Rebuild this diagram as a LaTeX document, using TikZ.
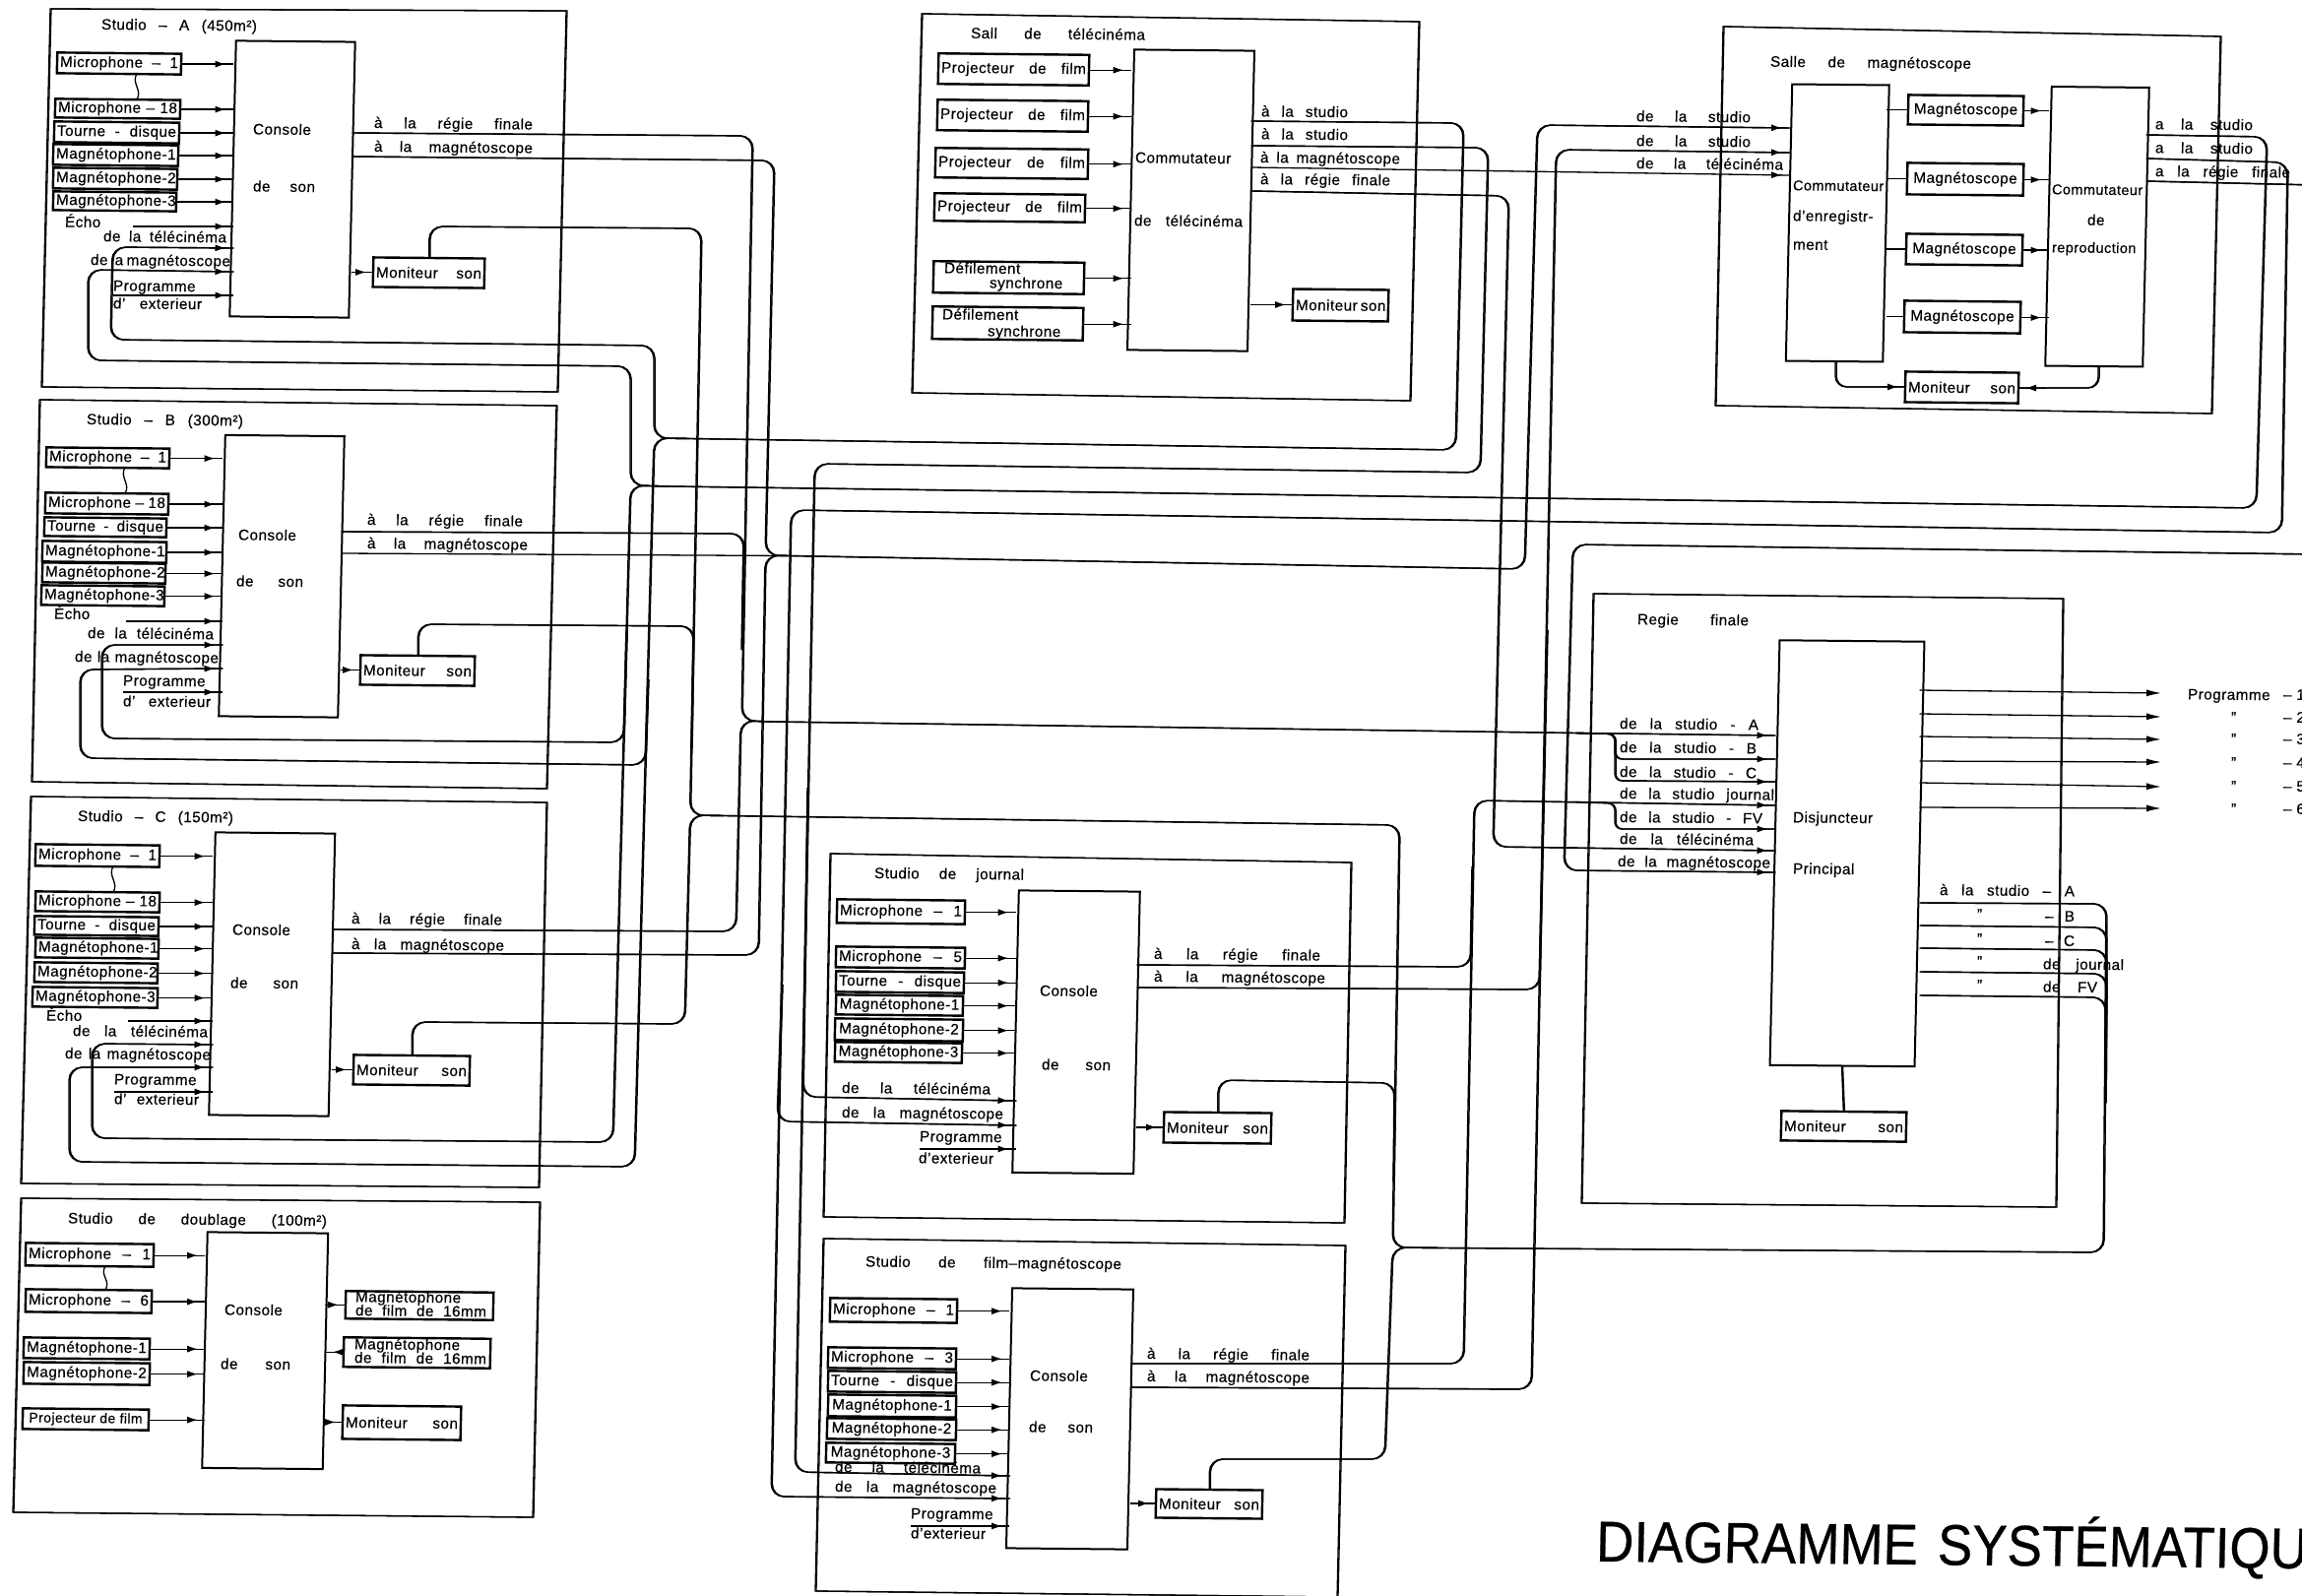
\documentclass[tikz,border=0pt]{standalone}
\usepackage{fontspec}
\setmainfont[LetterSpace=3,FakeBold=0.35]{Liberation Sans}
\newfontfamily\titlefont[FakeBold=0.5]{Liberation Sans}
\usetikzlibrary{arrows.meta,decorations.markings}
\newcounter{autonode}
\tikzset{
  every node/.style={transform shape,xslant=.023,yslant=-.01},
  txt/.style={inner sep=0pt,outer sep=0pt,text height=11pt,text depth=3.5pt,font=\fontsize{15.3}{16}\selectfont},
  ibox/.style={draw,line width=2.4pt,inner sep=0pt,outer sep=0pt,font=\fontsize{15.3}{16}\selectfont},
  cbox/.style={draw,line width=2pt,inner sep=0pt,outer sep=0pt},
  wire/.style={line width=1.3pt},
  feedtip/.style={postaction={decorate},decoration={markings,mark=at position -7pt with {\arrow{Latex[length=11pt,width=7pt]}}}},
  feed/.style={wire,feedtip},
  trunk/.style={line width=1.4pt,rounded corners=13pt,preaction={draw,line width=1.4pt,transform canvas={xshift=1.1pt}}},
  tin/.style={trunk,feedtip},
  frame/.style={line width=1.3pt,line join=miter,preaction={draw,line width=1.3pt,transform canvas={xshift=1pt}}},
  prog/.style={wire,-{Latex[length=15pt,width=7pt]}},
}
% text fitted between x1 and x2: spaces stretch
\newcommand\lab[4]{\stepcounter{autonode}\pgfmathsetmacro\tw{#2-#1}\pgfmathsetmacro\tc{(#1+#2)/2}%
  \node[txt] (t\theautonode) at (\tc,#3) {\makebox[\tw pt][s]{#4}};}
% box: name x1 y1 x2 y2 text
\newcommand\bx[6]{\pgfmathsetmacro\tw{#4-#2}\pgfmathsetmacro\th{#5-#3}\pgfmathsetmacro\tc{(#2+#4)/2}\pgfmathsetmacro\tm{(#3+#5)/2}\pgfmathsetmacro\ttw{max(#4-#2-6,1)}%
  \node[ibox,minimum width=\tw pt,minimum height=\th pt] (#1) at (\tc,\tm) {\makebox[\ttw pt][s]{#6}};}
\newcommand\con[5]{\pgfmathsetmacro\tw{#4-#2}\pgfmathsetmacro\th{#5-#3}\pgfmathsetmacro\tc{(#2+#4)/2}\pgfmathsetmacro\tm{(#3+#5)/2}%
  \node[cbox,minimum width=\tw pt,minimum height=\th pt] (#1) at (\tc,\tm) {};}
\newcommand\fd[2]{\draw[feed] (#1.east) -- (#2.west |- #1.east);}
\newcommand\fr[2]{\draw[feed] (#1.east |- #2.west) -- (#2.west);}
\newcommand\squig[3]{\draw[wire] (#1.south -| #3,0) .. controls +(-6,9) and +(6,-9) .. (#2.north -| #3,0);}
\newcommand\freein[4]{\coordinate (#1) at (#2,#3); \draw[feed] (#1) -- (#4.west |- #1);}
\begin{document}
\begin{tikzpicture}[x=1pt,y=-1pt]
\useasboundingbox (0,0) rectangle (2338,1621);
\fill[white] (0,0) rectangle (2338,1621);

%% frames
\draw[frame] (51,9)--(575,11)--(566,398)--(42,393)--cycle;
\draw[frame] (40,406)--(565,412)--(555,801)--(32,794)--cycle;
\draw[frame] (31,809)--(555,815)--(547,1206)--(21,1202)--cycle;
\draw[frame] (21,1217)--(548,1221)--(541,1541)--(13,1536)--cycle;
\draw[frame] (936,14)--(1441,22)--(1432,407)--(926,399)--cycle;
\draw[frame] (843,867)--(1372,876)--(1365,1242)--(836,1236)--cycle;
\draw[frame] (836,1258)--(1366,1265)--(1358,1622)--(828,1616)--cycle;
\draw[frame] (1750,27)--(2255,37)--(2246,420)--(1742,412)--cycle;
\draw[frame] (1618,603)--(2095,608)--(2088,1226)--(1606,1222)--cycle;

%% consoles
\con{conA}{236.5}{42}{357.5}{322}
\con{conB}{225.5}{442.5}{346.5}{728}
\con{conC}{215.5}{846}{337}{1133}
\con{conD}{208}{1252}{330.5}{1491.5}
\con{conT}{1148.5}{51}{1270.5}{356}
\con{conJ}{1031.5}{905}{1154.5}{1191.5}
\con{conF}{1025}{1309}{1148}{1573}
\con{conG}{1802.5}{651}{1949.5}{1082.5}
\con{conM}{1817}{86}{1915.5}{367}
\con{conR}{2080.5}{88.5}{2179.5}{372}

%% Studio A
\lab{103}{261}{27}{Studio -- A (450m²)}
\bx{aM1}{58}{54}{184}{75}{Microphone -- 1}
\bx{aM2}{56}{101}{183}{120}{Microphone -- 18}
\bx{aTD}{55}{124}{182}{145}{Tourne - disque}
\bx{aG1}{54}{147}{181}{168}{\hfil Magnétophone-1\hfil}
\bx{aG2}{54}{171}{180}{192}{\hfil Magnétophone-2\hfil}
\bx{aG3}{54}{195}{179}{214}{\hfil Magnétophone-3\hfil}
\squig{aM1}{aM2}{139}
\foreach \n in {aM1,aM2,aTD,aG1,aG2,aG3} {\fd{\n}{conA}}
\lab{66}{100}{227}{Écho}
\freein{aE}{135}{230}{conA}
\lab{105}{230}{242}{de la télécinéma}
\lab{92}{234}{266}{de la magnétoscope}
\lab{115}{198}{292}{Programme}
\lab{115}{205}{310}{d' exterieur}
\freein{aP}{115}{300}{conA}
\lab{257}{320}{133}{Console}
\lab{257}{320}{191}{de son}
\lab{380}{541}{127}{à la régie finale}
\lab{380}{541}{151}{à la magnétoscope}
\bx{aS}{379}{262}{492}{292}{Moniteur son}
\fr{conA}{aS}

%% Studio B
\lab{88}{247}{428}{Studio -- B (300m²)}
\bx{bM1}{47}{455}{172}{475}{Microphone -- 1}
\bx{bM2}{46}{501}{171}{522}{Microphone -- 18}
\bx{bTD}{45}{526}{169}{545}{Tourne - disque}
\bx{bG1}{43}{550}{169}{571}{\hfil Magnétophone-1\hfil}
\bx{bG2}{43}{572}{168}{592}{\hfil Magnétophone-2\hfil}
\bx{bG3}{42}{595}{167}{615}{\hfil Magnétophone-3\hfil}
\squig{bM1}{bM2}{127}
\foreach \n in {bM1,bM2,bTD,bG1,bG2,bG3} {\fd{\n}{conB}}
\lab{55}{90}{625}{Écho}
\freein{bE}{128}{631}{conB}
\lab{89}{217}{645}{de la télécinéma}
\lab{76}{222}{669}{de la magnétoscope}
\lab{125}{204}{693}{Programme}
\lab{125}{214}{714}{d' exterieur}
\freein{bP}{125}{703}{conB}
\lab{242}{310}{545}{Console}
\lab{240}{308}{592}{de son}
\lab{373}{531}{530}{à la régie finale}
\lab{373}{536}{554}{à la magnétoscope}
\bx{bS}{366}{666}{482}{696}{Moniteur son}
\fr{conB}{bS}

%% Studio C
\lab{79}{237}{831}{Studio -- C (150m²)}
\bx{cM1}{36}{858}{162}{880}{Microphone -- 1}
\bx{cM2}{36}{906}{162}{926}{Microphone -- 18}
\bx{cTD}{35}{931}{161}{950}{Tourne - disque}
\bx{cG1}{36}{953}{161}{973}{\hfil Magnétophone-1\hfil}
\bx{cG2}{35}{978}{160}{998}{\hfil Magnétophone-2\hfil}
\bx{cG3}{33}{1003}{160}{1023}{\hfil Magnétophone-3\hfil}
\squig{cM1}{cM2}{115}
\foreach \n in {cM1,cM2,cTD,cG1,cG2,cG3} {\fd{\n}{conC}}
\lab{47}{82}{1033}{Écho}
\freein{cE}{130}{1037}{conC}
\lab{74}{211}{1049}{de la télécinéma}
\lab{66}{214}{1072}{de la magnétoscope}
\lab{116}{199}{1098}{Programme}
\lab{116}{202}{1118}{d' exterieur}
\freein{cP}{116}{1109}{conC}
\lab{236}{307}{946}{Console}
\lab{234}{303}{1000}{de son}
\lab{357}{510}{935}{à la régie finale}
\lab{357}{512}{961}{à la magnétoscope}
\bx{cS}{359}{1072}{477}{1102}{Moniteur son}
\fr{conC}{cS}

%% Studio de doublage
\lab{69}{332}{1240}{Studio de doublage (100m²)}
\bx{dM1}{26}{1263}{156}{1286}{Microphone -- 1}
\bx{dM2}{26}{1310}{154}{1333}{Microphone -- 6}
\bx{dG1}{24}{1359}{152}{1380}{\hfil Magnétophone-1\hfil}
\bx{dG2}{24}{1384}{152}{1406}{\hfil Magnétophone-2\hfil}
\bx{dP}{23}{1431}{151}{1452}{\hfil{\fontsize{14}{14}\selectfont Projecteur de film}\hfil}
\squig{dM1}{dM2}{107}
\foreach \n in {dM1,dM2,dG1,dG2,dP} {\fd{\n}{conD}}
\lab{228}{292}{1332}{Console}
\lab{224}{295}{1387}{de son}
\bx{dF1}{351}{1312}{501}{1340}{}
\lab{361}{463}{1319}{Magnétophone}
\lab{361}{494}{1333}{de film de 16mm}
\bx{dF2}{349}{1359}{498}{1389}{}
\lab{360}{461}{1367}{Magnétophone}
\lab{360}{494}{1381}{de film de 16mm}
\bx{dS}{348}{1428}{468}{1462}{Moniteur son}
\fr{conD}{dF1}
\draw[feed] (dF2.west) -- (conD.east |- dF2.west);
\fr{conD}{dS}

%% Salle de télécinéma
\lab{986}{1163}{36}{Sall de télécinéma}
\bx{tP1}{953}{55}{1106}{86}{Projecteur de film}
\bx{tP2}{952}{102}{1105}{133}{Projecteur de film}
\bx{tP3}{950}{151}{1105}{181}{Projecteur de film}
\bx{tP4}{949}{197}{1102}{225}{Projecteur de film}
\bx{tD1}{948}{266}{1101}{298}{}
\bx{tD2}{947}{312}{1100}{345}{}
\lab{959}{1037}{274}{Défilement}
\lab{1005}{1078}{289}{synchrone}
\lab{957}{1035}{321}{Défilement}
\lab{1003}{1080}{338}{synchrone}
\foreach \n in {tP1,tP2,tP3,tP4,tD1,tD2} {\fd{\n}{conT}}
\lab{1153}{1249}{162}{Commutateur}
\lab{1152}{1262}{226}{de télécinéma}
\lab{1281}{1369}{115}{à la studio}
\lab{1281}{1369}{138}{à la studio}
\lab{1280}{1422}{162}{à la magnétoscope}
\lab{1280}{1412}{184}{à la régie finale}
\bx{tS}{1313}{294}{1410}{326}{Moniteur son}
\fr{conT}{tS}

%% Studio de journal
\lab{888}{1040}{889}{Studio de journal}
\bx{jM1}{850}{914}{980}{938}{Microphone -- 1}
\bx{jM2}{849}{962}{980}{983}{Microphone -- 5}
\bx{jTD}{849}{987}{979}{1008}{Tourne - disque}
\bx{jG1}{849}{1011}{978}{1031}{\hfil Magnétophone-1\hfil}
\bx{jG2}{848}{1035}{978}{1057}{\hfil Magnétophone-2\hfil}
\bx{jG3}{848}{1059}{977}{1079}{\hfil Magnétophone-3\hfil}
\foreach \n in {jM1,jM2,jTD,jG1,jG2,jG3} {\fd{\n}{conJ}}
\lab{855}{1006}{1107}{de la télécinéma}
\lab{855}{1019}{1132}{de la magnétoscope}
\lab{934}{1014}{1156}{Programme}
\lab{933}{1017}{1178}{d'exterieur}
\freein{jP}{934}{1167}{conJ}
\lab{1056}{1122}{1008}{Console}
\lab{1058}{1128}{1083}{de son}
\lab{1172}{1341}{971}{à la régie finale}
\lab{1172}{1346}{994}{à la magnétoscope}
\bx{jS}{1182}{1130}{1291}{1161}{Moniteur son}
\fr{conJ}{jS}

%% Studio de film-magnétoscope
\lab{879}{1139}{1284}{Studio de film--magnétoscope}
\bx{fM1}{843}{1319}{972}{1343}{Microphone -- 1}
\bx{fM2}{841}{1369}{971}{1390}{Microphone -- 3}
\bx{fTD}{841}{1393}{971}{1414}{Tourne - disque}
\bx{fG1}{841}{1417}{971}{1439}{\hfil Magnétophone-1\hfil}
\bx{fG2}{840}{1441}{971}{1462}{\hfil Magnétophone-2\hfil}
\bx{fG3}{839}{1466}{970}{1486}{\hfil Magnétophone-3\hfil}
\foreach \n in {fM1,fM2,fTD,fG1,fG2,fG3} {\fd{\n}{conF}}
\lab{848}{996}{1492}{de la télécinéma}
\lab{848}{1012}{1512}{de la magnétoscope}
\lab{925}{1010}{1539}{Programme}
\lab{925}{1007}{1559}{d'exterieur}
\freein{fP}{925}{1550}{conF}
\lab{1046}{1113}{1399}{Console}
\lab{1045}{1110}{1451}{de son}
\lab{1165}{1330}{1377}{à la régie finale}
\lab{1165}{1330}{1400}{à la magnétoscope}
\bx{fS}{1174}{1513}{1282}{1542}{Moniteur son}
\fr{conF}{fS}

%% Salle de magnétoscope
\lab{1798}{2002}{65}{Salle de magnétoscope}
\bx{mV1}{1938}{97}{2055}{127}{\hfil Magnétoscope\hfil}
\bx{mV2}{1937}{166}{2055}{198}{\hfil Magnétoscope\hfil}
\bx{mV3}{1936}{238}{2054}{269}{\hfil Magnétoscope\hfil}
\bx{mV4}{1934}{306}{2052}{338}{\hfil Magnétoscope\hfil}
\bx{mS}{1935}{378}{2050}{409}{Moniteur son}
\foreach \n in {mV1,mV2,mV3,mV4} {\draw[wire] (conM.east |- \n.west) -- (\n.west); \fd{\n}{conR}}
\coordinate (mrB) at (1864,368);
\coordinate (rrB) at (2131,372);
\draw[trunk,feedtip,rounded corners=11pt] (mrB) -- (1864,393) -- (mS.west);
\draw[trunk,feedtip,rounded corners=11pt] (rrB) -- (2131,394) -- (mS.east);
{\fontsize{14.6}{15}\selectfont}
\lab{1821}{1914}{190}{\fontsize{14.5}{15}\selectfont Commutateur}
\lab{1821}{1910}{221}{d'enregistr-}
\lab{1821}{1860}{250}{ment}
\lab{2084}{2172}{194}{\fontsize{14.5}{15}\selectfont Commutateur}
\lab{2120}{2140}{225}{de}
\lab{2084}{2172}{253}{\fontsize{14.5}{15}\selectfont reproduction}
\lab{1662}{1778}{120}{de la studio}
\lab{1662}{1778}{145}{de la studio}
\lab{1662}{1811}{168}{de la télécinéma}
\lab{2189}{2288}{128}{a la studio}
\lab{2189}{2288}{152}{a la studio}
\lab{2189}{2326}{176}{a la régie finale}

%% Régie finale
\lab{1663}{1776}{631}{Regie finale}
\lab{1645}{1786}{737}{de la studio - A}
\lab{1645}{1784}{761}{de la studio - B}
\lab{1645}{1784}{786}{de la studio - C}
\lab{1645}{1802}{808}{de la studio journal}
\lab{1645}{1790}{832}{de la studio - FV}
\lab{1645}{1781}{854}{de la télécinéma}
\lab{1643}{1798}{877}{de la magnétoscope}
\lab{1821}{1907}{832}{Disjuncteur}
\lab{1821}{1892}{884}{Principal}
\lab{1970}{2107}{906}{à la studio -- A}
\lab{2008}{2018}{930}{”}
\lab{2077}{2107}{932}{-- B}
\lab{2008}{2018}{955}{”}
\lab{2077}{2107}{957}{-- C}
\lab{2008}{2018}{978}{”}
\lab{2075}{2157}{981}{de journal}
\lab{2008}{2018}{1002}{”}
\lab{2075}{2130}{1004}{de FV}
\bx{gS}{1809}{1129}{1936}{1159}{Moniteur son}
\draw[wire,line width=2.4pt] (conG.south) -- (gS.north);

%% programme outputs
\foreach \k/\a/\b in {1/701/704,2/725/728,3/748/751,4/773/774,5/795/799,6/820/821} {
  \coordinate (pg\k) at (2195,\b);
  \draw[prog] (conG.east |- 0,\a) -- (pg\k);
}
\lab{2222}{2307}{707}{Programme}
\node[txt] (pnA) at (2330,707) {-- 1};
\foreach \k/\y in {2/730,3/752,4/776,5/800,6/823} {
  \lab{2266}{2276}{\y}{”}
  \node[txt] (pn\k) at (2330,\y) {-- \k};
}

%% title
\node[anchor=west,inner sep=0pt,font=\titlefont\fontsize{53}{53}\selectfont] (title) at (1621,1566)
  {\scalebox{1}[1.1]{DIAGRAMME\hspace{20pt}SYSTÉMATIQUE}};

%% -----  trunks  -----
% télécinéma 1 -> studios A, B, C
\coordinate (h1r) at (700,445.5);
\coordinate (v1) at (658,690);
\draw[trunk] (conT.east |- 0,123) -- (1486,125) -- (1478,457) -- (h1r);
\draw[tin] (h1r) -- (664,445) -- (664,351) -- (112,345) -- (114,251) -- (conA.west |- 0,252);
\draw[tin] (h1r) -- (664,445) -- (644,1185) -- (70,1180) -- (70,1084) -- (conC.west |- 0,1084);
\draw[tin] (v1) -- (655,777) -- (81,770) -- (81,680) -- (conB.west |- 0,679);
% magnétoscope 1 -> studios A, B, C
\coordinate (h2r) at (680,494);
\coordinate (v2) at (636,640);
\draw[trunk] (conR.east |- 0,137) -- (2302,139) -- (2291,516) -- (h2r);
\draw[tin] (h2r) -- (640,493) -- (640,372) -- (89,366) -- (89,274) -- (conA.west |- 0,276);
\draw[tin] (h2r) -- (640,493) -- (622,1160) -- (93,1156) -- (93,1060) -- (conC.west |- 0,1061);
\draw[tin] (v2) -- (633,754) -- (103,750) -- (103,655) -- (conB.west |- 0,655);
% studios -> régie finale
\coordinate (h4r) at (785,733);
\coordinate (v4) at (753,660);
\coordinate (h4f) at (1600,744.5);
\draw[trunk] (conA.east |- 0,135) -- (764,138) -- (753,732) -- (h4r);
\draw[trunk] (conB.east |- 0,540) -- (755,542) -- (v4);
\draw[trunk] (conC.east |- 0,944) -- (747,946) -- (752,732) -- (h4r);
\draw[tin] (h4r) -- (h4f) -- (conG.west |- 0,747);
\draw[tin,rounded corners=7pt] (h4f) -- (1640,745.5) -- (1640,771) -- (conG.west |- 0,771);
\draw[tin,rounded corners=7pt] (h4f) -- (1640,745.5) -- (1640,793) -- (conG.west |- 0,794);
% studios -> salle de magnétoscope
\coordinate (h5r) at (800,564.5);
\draw[tin] (h5r) -- (1548,578) -- (1561,127) -- (conM.west |- 0,130);
\draw[trunk] (conA.east |- 0,159) -- (786,163) -- (777,564) -- (h5r);
\draw[wire] (conB.east |- 0,562) -- (h5r);
\draw[trunk] (conC.east |- 0,968) -- (770,970) -- (777,564) -- (h5r);
\coordinate (v5) at (1571,640);
\draw[tin] (conF.east |- 0,1409) -- (1555,1411) -- (1580,152) -- (conM.west |- 0,155);
\draw[trunk] (conJ.east |- 0,1003) -- (1563,1005) -- (v5);
% télécinéma 2 -> journal, film
\coordinate (v6) at (820,800);
\draw[tin] (conT.east |- 0,148) -- (1511,150) -- (1503,480) -- (827,471) -- (807,1495) -- (conF.west |- 0,1499);
\draw[tin] (v6) -- (815,1114) -- (conJ.west |- 0,1118);
% télécinéma 3, 4
\draw[feed] (conT.east |- 0,170) -- (conM.west |- 0,178);
\draw[tin] (conT.east |- 0,194) -- (1532,199) -- (1516,860) -- (conG.west |- 0,864);
% magnétoscope 2 -> journal, film
\coordinate (v7) at (794,1000);
\draw[tin] (conR.east |- 0,161) -- (2323,165) -- (2317,541) -- (803,518) -- (783,1520) -- (conF.west |- 0,1522);
\draw[tin] (v7) -- (789,1139) -- (conJ.west |- 0,1143);
% magnétoscope 3 -> régie (by the right edge)
\draw[tin] (conR.east |- 0,184) -- (2352,188) -- (2352,563) -- (1597,553) -- (1588,884) -- (conG.west |- 0,886);
% journal, film -> régie
\coordinate (v8) at (1495,880);
\coordinate (h8f) at (1600,814.5);
\draw[tin] (conF.east |- 0,1385) -- (1486,1385) -- (1497,813) -- (conG.west |- 0,818);
\draw[trunk] (conJ.east |- 0,980) -- (1493,982) -- (v8);
\draw[tin,rounded corners=7pt] (h8f) -- (1640,816) -- (1640,842) -- (conG.west |- 0,842);
% régie -> moniteurs
\coordinate (h7r) at (1465,1267.5);
\coordinate (h6l) at (735,828.5);
\coordinate (v9) at (2138,1120);
\coordinate (v10) at (1415,1200);
\coordinate (v11) at (702,760);
\draw[trunk] (conG.east |- 0,917) -- (2139,918) -- (2136,1272) -- (h7r);
\draw[trunk] (conG.east |- 0,940) -- (2139,942) -- (v9);
\draw[trunk] (conG.east |- 0,963) -- (2139,965) -- (v9);
\draw[trunk] (conG.east |- 0,987) -- (2139,989) -- (v9);
\draw[trunk] (conG.east |- 0,1011) -- (2138,1013) -- (v9);
\draw[trunk] (h7r) -- (1414,1267) -- (1421,838) -- (h6l);
\draw[trunk] (jS.north) -- (jS.north |- 0,1097) -- (1416,1100) -- (v10);
\draw[trunk] (h7r) -- (1414,1267) -- (1406,1482) -- (fS.north |- 0,1482) -- (fS.north);
\draw[trunk] (h6l) -- (700.5,828) -- (712,232) -- (aS.north |- 0,230) -- (aS.north);
\draw[trunk] (h6l) -- (700.5,828) -- (695,1040) -- (cS.north |- 0,1038) -- (cS.north);
\draw[trunk] (v11) -- (704,636) -- (bS.north |- 0,634) -- (bS.north);
\end{tikzpicture}
\end{document}
